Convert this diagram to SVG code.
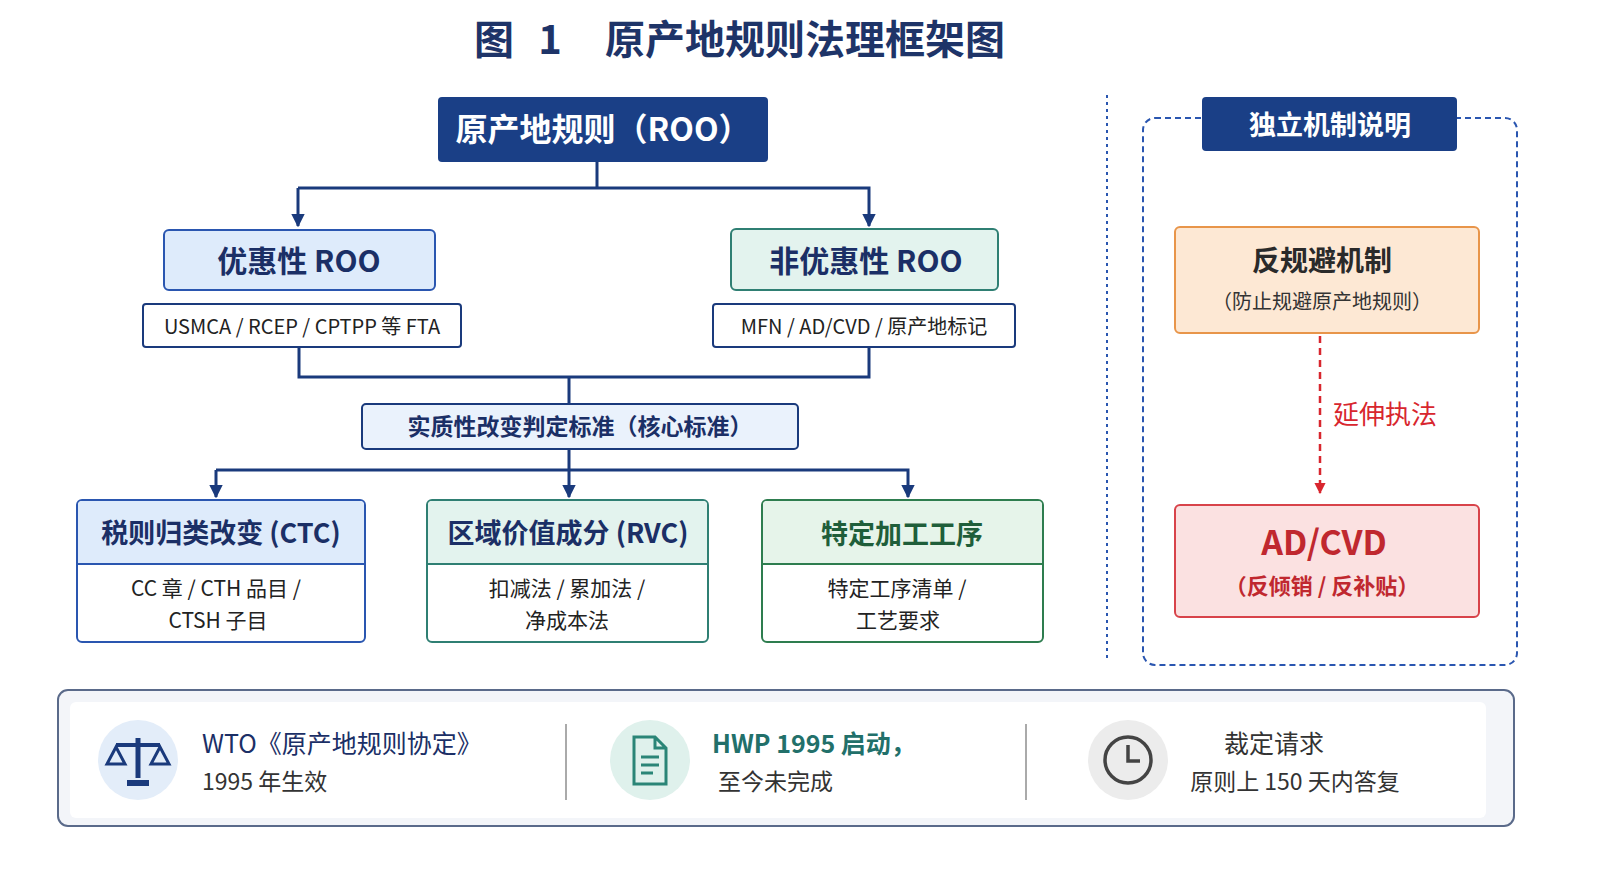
<svg xmlns="http://www.w3.org/2000/svg" width="1600" height="878" viewBox="0 0 1600 878">
<defs>
<style>
text{font-family:"Noto Sans CJK SC","Noto Sans",sans-serif;text-anchor:middle}
text.s{text-anchor:start}
.ln{fill:none;stroke:#1a3a7c;stroke-width:3}
.b{font-weight:bold}
</style>
<marker id="ar" viewBox="0 0 10 10" refX="9" refY="5" markerWidth="4.5" markerHeight="4.5" orient="auto"><path d="M0,0L10,5L0,10z" fill="#1a3a7c"/></marker>
<marker id="arr" viewBox="0 0 10 10" refX="9" refY="5" markerWidth="4.5" markerHeight="4.5" orient="auto"><path d="M0,0L10,5L0,10z" fill="#d8262e"/></marker>
</defs>
<rect width="1600" height="878" fill="#fff"/>
<text x="494" y="54" font-size="40" class="b" fill="#1e3468">图</text>
<text x="550" y="54" font-size="40" class="b" fill="#1e3468">1</text>
<text x="805" y="54" font-size="40" class="b" fill="#1e3468">原产地规则法理框架图</text>

<g id="connectors">
<path class="ln" d="M597,162V188H298M597,188H869V226" marker-end="url(#ar)"/>
<path class="ln" d="M298,188V226" marker-end="url(#ar)"/>
<path class="ln" d="M299,347V377H869V347M569,377V404"/>
<path class="ln" d="M569,449V470H216M569,470H908V497" marker-end="url(#ar)"/>
<path class="ln" d="M216,470V497" marker-end="url(#ar)"/>
<path class="ln" d="M569,470V497" marker-end="url(#ar)"/>
<path d="M1320,336V493" fill="none" stroke="#d8262e" stroke-width="2.5" stroke-dasharray="7,5" marker-end="url(#arr)"/>
<text x="1385" y="424" font-size="26" fill="#d8262e">延伸执法</text>
</g>

<g id="roo"><rect x="438" y="97" width="330" height="65" rx="4" fill="#1a3f86"/><text x="603" y="141" font-size="32" class="b" fill="#fff">原产地规则（ROO）</text></g>
<g id="pref"><rect x="164" y="230" width="271" height="60" rx="5" fill="#deebfb" stroke="#2a56b0" stroke-width="2"/><text x="299" y="272" font-size="30" class="b" fill="#1b2f66">优惠性 ROO</text></g>
<g id="nonpref"><rect x="731" y="229" width="267" height="61" rx="5" fill="#e3f3ee" stroke="#2f7f73" stroke-width="2"/><text x="866" y="272" font-size="30" class="b" fill="#1b2f66">非优惠性 ROO</text></g>
<g id="fta"><rect x="143" y="304" width="318" height="43" rx="3" fill="#fff" stroke="#1a3a7c" stroke-width="2"/><text x="302" y="334" font-size="20" fill="#222">USMCA / RCEP / CPTPP 等 FTA</text></g>
<g id="mfn"><rect x="713" y="304" width="302" height="43" rx="3" fill="#fff" stroke="#1a3a7c" stroke-width="2"/><text x="864" y="334" font-size="20" fill="#222">MFN / AD/CVD / 原产地标记</text></g>
<g id="core"><rect x="362" y="404" width="436" height="45" rx="4" fill="#eaf2fc" stroke="#1a3a7c" stroke-width="2"/><text x="580" y="435" font-size="23" class="b" fill="#1b2f66">实质性改变判定标准（核心标准）</text></g>

<g id="ctc"><rect x="77" y="500" width="288" height="142" rx="5" fill="#fff" stroke="#2a56b0" stroke-width="2"/><path d="M78,564V505a4,4 0 0 1 4,-4H360a4,4 0 0 1 4,4V564z" fill="#deebfb"/><line x1="77" y1="564" x2="365" y2="564" stroke="#2a56b0" stroke-width="2"/><text x="221" y="543" font-size="27" class="b" fill="#1b2f66">税则归类改变 (CTC)</text><text x="216" y="596" font-size="21" fill="#222">CC 章 / CTH 品目 /</text><text x="218" y="628" font-size="21" fill="#222">CTSH 子目</text></g>
<g id="rvc"><rect x="427" y="500" width="281" height="142" rx="5" fill="#fff" stroke="#2f7f73" stroke-width="2"/><path d="M428,564V505a4,4 0 0 1 4,-4H703a4,4 0 0 1 4,4V564z" fill="#e3f3ee"/><line x1="427" y1="564" x2="708" y2="564" stroke="#2f7f73" stroke-width="2"/><text x="568" y="543" font-size="27" class="b" fill="#1b2f66">区域价值成分 (RVC)</text><text x="567" y="596" font-size="21" fill="#222">扣减法 / 累加法 /</text><text x="567" y="628" font-size="21" fill="#222">净成本法</text></g>
<g id="proc"><rect x="762" y="500" width="281" height="142" rx="5" fill="#fff" stroke="#2e7d4f" stroke-width="2"/><path d="M763,564V505a4,4 0 0 1 4,-4H1038a4,4 0 0 1 4,4V564z" fill="#e6f4ea"/><line x1="762" y1="564" x2="1043" y2="564" stroke="#2e7d4f" stroke-width="2"/><text x="902" y="544" font-size="27" class="b" fill="#1f5e3a">特定加工工序</text><text x="897" y="596" font-size="21" fill="#222">特定工序清单 /</text><text x="898" y="628" font-size="21" fill="#222">工艺要求</text></g>

<line x1="1107" y1="95" x2="1107" y2="662" stroke="#2a56b0" stroke-width="2" stroke-dasharray="3,4"/>
<g id="indep"><rect x="1143" y="118" width="374" height="547" rx="12" fill="none" stroke="#2a56b0" stroke-width="2" stroke-dasharray="6,4"/><rect x="1202" y="97" width="255" height="54" rx="4" fill="#1a3f86"/><text x="1330" y="135" font-size="27" class="b" fill="#fff">独立机制说明</text></g>
<g id="anti"><rect x="1175" y="227" width="304" height="106" rx="5" fill="#fde8d4" stroke="#e8954a" stroke-width="2"/><text x="1322" y="271" font-size="28" class="b" fill="#2a2a2a">反规避机制</text><text x="1322" y="309" font-size="20" fill="#333">（防止规避原产地规则）</text></g>
<g id="adcvd"><rect x="1175" y="505" width="304" height="112" rx="5" fill="#fbe1e1" stroke="#d8434a" stroke-width="2"/><text x="1324" y="555" font-size="34" class="b" fill="#c0282f">AD/CVD</text><text x="1322" y="594" font-size="22" class="b" fill="#c0282f">（反倾销 / 反补贴）</text></g>

<g id="footer">
<rect x="58" y="690" width="1456" height="136" rx="10" fill="#f3f5f9" stroke="#5a6a8a" stroke-width="2"/>
<rect x="70" y="702" width="1416" height="116" rx="6" fill="#fff"/>
<line x1="566" y1="724" x2="566" y2="800" stroke="#aaa" stroke-width="2"/>
<line x1="1026" y1="724" x2="1026" y2="800" stroke="#aaa" stroke-width="2"/>
<circle cx="138" cy="760" r="40" fill="#e3edf9"/>
<g fill="#1a3a7c" stroke="#1a3a7c"><line x1="138" y1="738" x2="138" y2="778" stroke-width="5"/><line x1="116" y1="745" x2="160" y2="745" stroke-width="4"/><path d="M128,781h20v4h-20z" stroke-width="2"/><path d="M116,747l-9,17h18z M160,747l-9,17h18z" fill="none" stroke-width="3"/></g>
<text class="s" x="202" y="753" font-size="25" fill="#1b2f66">WTO《原产地规则协定》</text>
<text class="s" x="202" y="790" font-size="23" fill="#333">1995 年生效</text>
<circle cx="650" cy="760" r="40" fill="#dff1ec"/>
<path d="M634,737h21l11,11v36h-32z M655,737v11h11" fill="none" stroke="#2a8577" stroke-width="3"/><path d="M641,757h18M641,765h18M641,773h12" stroke="#2a8577" stroke-width="3"/>
<text class="s b" x="712" y="753" font-size="25" fill="#22706a">HWP 1995 启动，</text>
<text class="s" x="718" y="790" font-size="23" fill="#333">至今未完成</text>
<circle cx="1128" cy="760" r="40" fill="#ececec"/>
<circle cx="1128" cy="760" r="23" fill="none" stroke="#444" stroke-width="3.5"/><path d="M1128,745V761H1140" fill="none" stroke="#444" stroke-width="3.5"/>
<text x="1274" y="753" font-size="25" fill="#333">裁定请求</text>
<text x="1295" y="790" font-size="23" fill="#333">原则上 150 天内答复</text>
</g>
</svg>
